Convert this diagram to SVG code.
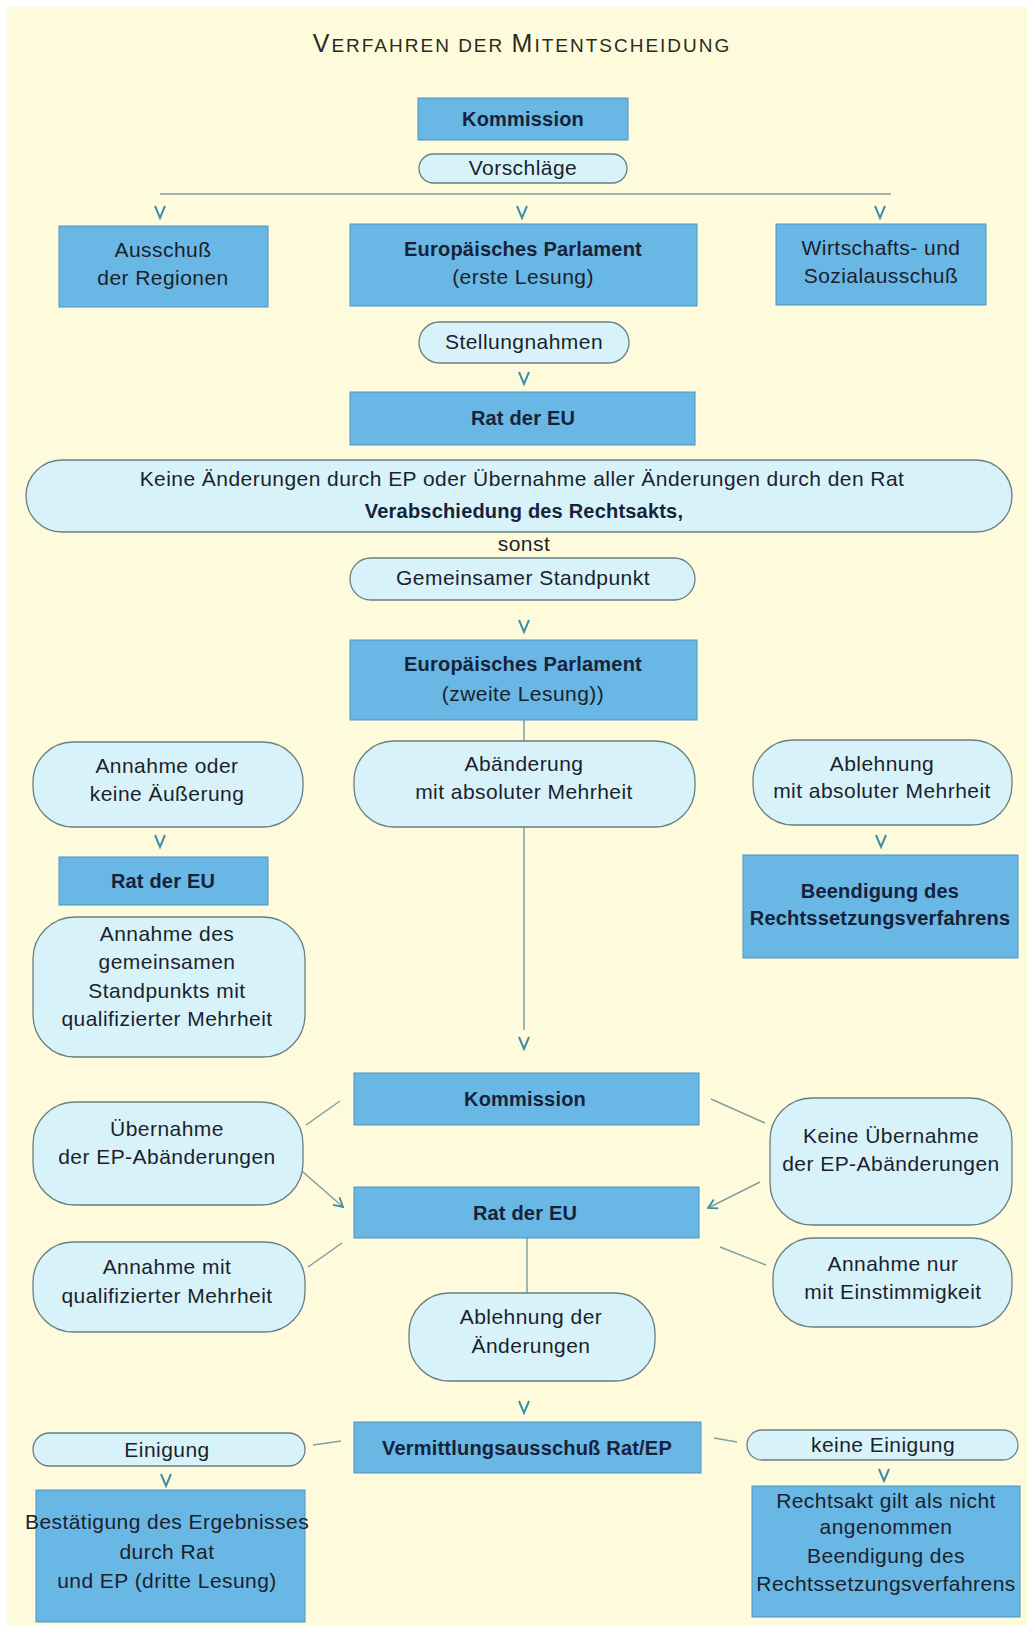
<svg xmlns="http://www.w3.org/2000/svg" width="1027" height="1626" viewBox="0 0 1027 1626">
<style>
.bg{fill:#fefbdc}
.box{fill:#69b7e4;stroke:#4f93c0;stroke-width:1}
.loz{fill:#d7f3f9;stroke:#6a7d82;stroke-width:1.3}
.t{font-family:"Liberation Sans",Arial,sans-serif;font-size:21px;letter-spacing:0.45px;fill:#1c1f2c;text-anchor:middle}
.b{font-weight:bold;font-size:20px;letter-spacing:0.2px;fill:#16223a}
.ln{stroke:#80a0a2;stroke-width:1.5;fill:none}
.v{stroke:#3f8ea8;stroke-width:2;fill:none;stroke-linejoin:miter}
.title{font-family:"Liberation Sans",Arial,sans-serif;fill:#2a2a22;text-anchor:middle;font-size:19px;letter-spacing:2px}
</style>
<defs>
<marker id="oa" viewBox="0 0 12 12" refX="11" refY="6" markerWidth="12" markerHeight="12" markerUnits="userSpaceOnUse" orient="auto">
<polyline points="2,1 11,6 2,11" fill="none" stroke="#3f8ea8" stroke-width="1.8"/>
</marker>
<polyline id="vv" points="-5,0 0,12 5,0"/>
</defs>
<rect width="1027" height="1626" fill="#ffffff"/>
<rect class="bg" x="7" y="7" width="1020" height="1619"/>
<text class="title" x="522" y="52"><tspan font-size="25">V</tspan>ERFAHREN DER <tspan font-size="25">M</tspan>ITENTSCHEIDUNG</text>

<g id="connectors">
<line class="ln" x1="160" y1="194" x2="891" y2="194"/>
<line class="ln" x1="524" y1="720" x2="524" y2="1030"/>
<line class="ln" x1="527" y1="1238" x2="527" y2="1293"/>
<line class="ln" x1="306" y1="1125" x2="340" y2="1101"/>
<line class="ln" x1="303" y1="1172" x2="343" y2="1207" marker-end="url(#oa)"/>
<line class="ln" x1="711" y1="1099" x2="765" y2="1123"/>
<line class="ln" x1="760" y1="1182" x2="708" y2="1208" marker-end="url(#oa)"/>
<line class="ln" x1="308" y1="1267" x2="342" y2="1243"/>
<line class="ln" x1="720" y1="1247" x2="766" y2="1265"/>
<line class="ln" x1="313" y1="1445" x2="341" y2="1441"/>
<line class="ln" x1="714" y1="1438" x2="737" y2="1442"/>
<use href="#vv" class="v" x="160" y="206"/>
<use href="#vv" class="v" x="522" y="206"/>
<use href="#vv" class="v" x="880" y="206"/>
<use href="#vv" class="v" x="524" y="372"/>
<use href="#vv" class="v" x="524" y="620"/>
<use href="#vv" class="v" x="160" y="835"/>
<use href="#vv" class="v" x="881" y="835"/>
<use href="#vv" class="v" x="524" y="1037"/>
<use href="#vv" class="v" x="524" y="1401"/>
<use href="#vv" class="v" x="166" y="1474"/>
<use href="#vv" class="v" x="884" y="1469"/>
</g>

<g id="kommission1"><rect class="box" x="418" y="98" width="210" height="42"/><text class="t b" x="523" y="126">Kommission</text></g>
<g id="vorschlaege"><rect class="loz" x="419" y="154" width="208" height="29" rx="14.5"/><text class="t" x="523" y="175">Vorschläge</text></g>

<g id="adr"><rect class="box" x="59" y="226" width="209" height="81"/><text class="t" x="163" y="257">Ausschuß</text><text class="t" x="163" y="285">der Regionen</text></g>
<g id="ep1"><rect class="box" x="350" y="224" width="347" height="82"/><text class="t b" x="523" y="256">Europäisches Parlament</text><text class="t" x="523" y="284">(erste Lesung)</text></g>
<g id="wsa"><rect class="box" x="776" y="224" width="210" height="81"/><text class="t" x="881" y="255">Wirtschafts- und</text><text class="t" x="881" y="283">Sozialausschuß</text></g>

<g id="stellungnahmen"><rect class="loz" x="419" y="322" width="210" height="41" rx="20.5"/><text class="t" x="524" y="349">Stellungnahmen</text></g>
<g id="rat1"><rect class="box" x="350" y="392" width="345" height="53"/><text class="t b" x="523" y="425">Rat der EU</text></g>

<g id="keine"><rect class="loz" x="26" y="460" width="986" height="72" rx="36"/><text class="t" x="522" y="486">Keine Änderungen durch EP oder Übernahme aller Änderungen durch den Rat</text><text class="t b" x="524" y="518">Verabschiedung des Rechtsakts,</text></g>
<text class="t" x="524" y="551">sonst</text>
<g id="standpunkt"><rect class="loz" x="350" y="558" width="345" height="42" rx="21"/><text class="t" x="523" y="585">Gemeinsamer Standpunkt</text></g>

<g id="ep2"><rect class="box" x="350" y="640" width="347" height="80"/><text class="t b" x="523" y="671">Europäisches Parlament</text><text class="t" x="523" y="701">(zweite Lesung))</text></g>

<g id="annahmeoder"><rect class="loz" x="33" y="742" width="270" height="85" rx="40"/><text class="t" x="167" y="773">Annahme oder</text><text class="t" x="167" y="801">keine Äußerung</text></g>
<g id="abaenderung"><rect class="loz" x="354" y="741" width="341" height="86" rx="40"/><text class="t" x="524" y="771">Abänderung</text><text class="t" x="524" y="799">mit absoluter Mehrheit</text></g>
<g id="ablehnung"><rect class="loz" x="753" y="740" width="259" height="85" rx="40"/><text class="t" x="882" y="771">Ablehnung</text><text class="t" x="882" y="798">mit absoluter Mehrheit</text></g>

<g id="rat2"><rect class="box" x="59" y="857" width="209" height="48"/><text class="t b" x="163" y="888">Rat der EU</text></g>
<g id="annahmedes"><rect class="loz" x="33" y="917" width="272" height="140" rx="42"/><text class="t" x="167" y="941">Annahme des</text><text class="t" x="167" y="969">gemeinsamen</text><text class="t" x="167" y="998">Standpunkts  mit</text><text class="t" x="167" y="1026">qualifizierter Mehrheit</text></g>
<g id="beendigung1"><rect class="box" x="743" y="855" width="275" height="103"/><text class="t b" x="880" y="898">Beendigung des</text><text class="t b" x="880" y="925">Rechtssetzungsverfahrens</text></g>

<g id="kommission2"><rect class="box" x="354" y="1073" width="345" height="52"/><text class="t b" x="525" y="1106">Kommission</text></g>
<g id="uebernahme"><rect class="loz" x="33" y="1102" width="270" height="103" rx="42"/><text class="t" x="167" y="1136">Übernahme</text><text class="t" x="167" y="1164">der EP-Abänderungen</text></g>
<g id="keineuebernahme"><rect class="loz" x="770" y="1098" width="242" height="127" rx="42"/><text class="t" x="891" y="1143">Keine Übernahme</text><text class="t" x="891" y="1171">der EP-Abänderungen</text></g>
<g id="rat3"><rect class="box" x="354" y="1187" width="345" height="51"/><text class="t b" x="525" y="1220">Rat der EU</text></g>
<g id="annahmemit"><rect class="loz" x="33" y="1242" width="272" height="90" rx="40"/><text class="t" x="167" y="1274">Annahme mit</text><text class="t" x="167" y="1303">qualifizierter Mehrheit</text></g>
<g id="annahmenur"><rect class="loz" x="773" y="1238" width="239" height="89" rx="40"/><text class="t" x="893" y="1271">Annahme nur</text><text class="t" x="893" y="1299">mit Einstimmigkeit</text></g>
<g id="ablehnungder"><rect class="loz" x="409" y="1293" width="246" height="88" rx="40"/><text class="t" x="531" y="1324">Ablehnung der</text><text class="t" x="531" y="1353">Änderungen</text></g>

<g id="vermittlung"><rect class="box" x="354" y="1422" width="347" height="51"/><text class="t b" x="527" y="1455">Vermittlungsausschuß Rat/EP</text></g>
<g id="einigung"><rect class="loz" x="33" y="1433" width="272" height="33" rx="16.5"/><text class="t" x="167" y="1457">Einigung</text></g>
<g id="keineeinigung"><rect class="loz" x="747" y="1430" width="271" height="30" rx="15"/><text class="t" x="883" y="1452">keine Einigung</text></g>

<g id="bestaetigung"><rect class="box" x="36" y="1490" width="269" height="132"/><text class="t" x="167" y="1529">Bestätigung des Ergebnisses</text><text class="t" x="167" y="1559">durch Rat</text><text class="t" x="167" y="1588">und EP (dritte Lesung)</text></g>
<g id="rechtsakt"><rect class="box" x="752" y="1486" width="268" height="131"/><text class="t" x="886" y="1508">Rechtsakt gilt als nicht</text><text class="t" x="886" y="1534">angenommen</text><text class="t" x="886" y="1563">Beendigung des</text><text class="t" x="886" y="1591">Rechtssetzungsverfahrens</text></g>
</svg>
